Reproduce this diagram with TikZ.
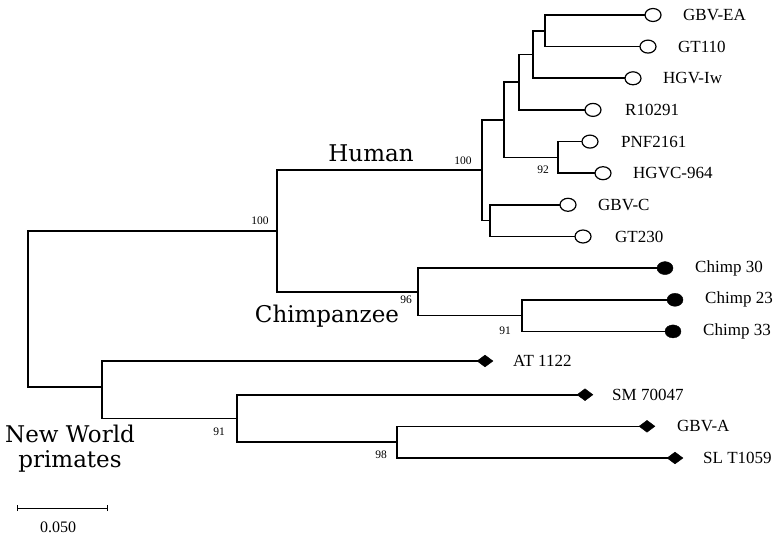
\documentclass[tikz,border=0pt]{standalone}
\usepackage{fontspec}
\setmainfont{Liberation Serif}
\newfontfamily\grpfont{DejaVu Serif}
\usetikzlibrary{shapes.geometric}
\begin{document}
\begin{tikzpicture}[x=1pt,y=-1pt,
  br/.style={line width=1.6pt, line cap=rect},
  openleaf/.style={ellipse, draw, line width=1.2pt, fill=white, minimum width=16pt, minimum height=13pt, inner sep=0pt},
  fullleaf/.style={ellipse, draw, fill=black, minimum width=16pt, minimum height=13pt, inner sep=0pt},
  dleaf/.style={diamond, draw, fill=black, minimum width=16pt, minimum height=12pt, inner sep=0pt},
  lbl/.style={anchor=west, inner sep=0pt, font=\fontsize{17}{20}\selectfont},
  boot/.style={inner sep=0pt, font=\fontsize{11.5}{13}\selectfont},
  grp/.style={inner sep=0pt, font=\grpfont\fontsize{23}{25}\selectfont}]
\useasboundingbox (0,0) rectangle (781,540);
% internal nodes
\coordinate (root) at (28,309);
\coordinate (nHC) at (277,231);
\coordinate (nH) at (482,170.2);
\coordinate (nA) at (504,119.8);
\coordinate (nR) at (519,82.2);
\coordinate (nIw) at (533,54.5);
\coordinate (nEA) at (545,30.8);
\coordinate (nPNF) at (558,157.4);
\coordinate (nC) at (490,220.6);
\coordinate (nCh) at (418,291.9);
\coordinate (nCh23) at (522,315.6);
\coordinate (nNW) at (102,387);
\coordinate (n91) at (237,418.4);
\coordinate (nGA) at (397,442.2);
% leaves
\node[openleaf] (EA) at (653,15) {};
\node[openleaf] (GT110) at (648,46.6) {};
\node[openleaf] (Iw) at (633,78.3) {};
\node[openleaf] (R) at (593,109.9) {};
\node[openleaf] (PNF) at (590,141.6) {};
\node[openleaf] (HGVC) at (603,173.2) {};
\node[openleaf] (GBVC) at (568,204.8) {};
\node[openleaf] (GT230) at (583,236.5) {};
\node[fullleaf] (Ch30) at (665,268.1) {};
\node[fullleaf] (Ch23) at (675,299.8) {};
\node[fullleaf] (Ch33) at (673,331.4) {};
\node[dleaf] (AT) at (485,361) {};
\node[dleaf] (SM) at (585,394.7) {};
\node[dleaf] (GBVA) at (647,426.3) {};
\node[dleaf] (SL) at (675,458) {};
% leaf labels
\node[lbl] (tEA) at (683,15) {GBV-EA};
\node[lbl] (tGT110) at (678,46.6) {GT110};
\node[lbl] (tIw) at (663,78.3) {HGV-Iw};
\node[lbl] (tR) at (625,109.9) {R10291};
\node[lbl] (tPNF) at (621,141.6) {PNF2161};
\node[lbl] (tHGVC) at (633,173.2) {HGVC-964};
\node[lbl] (tGBVC) at (598,204.8) {GBV-C};
\node[lbl] (tGT230) at (615,236.5) {GT230};
\node[lbl] (tCh30) at (695,268.1) {Chimp 30};
\node[lbl] (tCh23) at (705,299.8) {Chimp 23};
\node[lbl] (tCh33) at (703,331.4) {Chimp 33};
\node[lbl] (tAT) at (513,361) {AT 1122};
\node[lbl] (tSM) at (612,394.7) {SM 70047};
\node[lbl] (tGBVA) at (677,426.3) {GBV-A};
\node[lbl] (tSL) at (703,458) {SL T1059};
% branches
\draw[br] (root) |- (nHC);
\draw[br] (root) |- (nNW);
\draw[br] (nHC) |- (nH);
\draw[br] (nHC) |- (nCh);
\draw[br] (nH) |- (nA);
\draw[br] (nH) |- (nC);
\draw[br] (nA) |- (nR);
\draw[br] (nA) |- (nPNF);
\draw[br] (nR) |- (nIw);
\draw[br] (nR) |- (R.west);
\draw[br] (nIw) |- (nEA);
\draw[br] (nIw) |- (Iw.west);
\draw[br] (nEA) |- (EA.west);
\draw[br] (nEA) |- (GT110.west);
\draw[br] (nPNF) |- (PNF.west);
\draw[br] (nPNF) |- (HGVC.west);
\draw[br] (nC) |- (GBVC.west);
\draw[br] (nC) |- (GT230.west);
\draw[br] (nCh) |- (Ch30.west);
\draw[br] (nCh) |- (nCh23);
\draw[br] (nCh23) |- (Ch23.west);
\draw[br] (nCh23) |- (Ch33.west);
\draw[br] (nNW) |- (AT.west);
\draw[br] (nNW) |- (n91);
\draw[br] (n91) |- (SM.west);
\draw[br] (n91) |- (nGA);
\draw[br] (nGA) |- (GBVA.west);
\draw[br] (nGA) |- (SL.west);
% bootstrap values
\node[boot] (b1) at (260,221) {100};
\node[boot] (b2) at (463,161) {100};
\node[boot] (b3) at (543,170) {92};
\node[boot] (b4) at (406,300) {96};
\node[boot] (b5) at (505,331) {91};
\node[boot] (b6) at (219,432) {91};
\node[boot] (b7) at (381,455) {98};
% group labels
\node[grp] (gH) at (371,153) {Human};
\node[grp, anchor=base] (gC) at (327,322) {Chimpanzee};
\node[grp, anchor=base, align=center] (gNW) at (70,467) {New World\\primates};
% scale bar
\coordinate (s1) at (17,508);
\coordinate (s2) at (107,508);
\draw[line width=1pt] (s1) -- (s2);
\draw[line width=1pt] ([yshift=-3pt]s1) -- ([yshift=3pt]s1);
\draw[line width=1pt] ([yshift=-3pt]s2) -- ([yshift=3pt]s2);
\node[inner sep=0pt, font=\fontsize{16}{18}\selectfont] (sl) at (58,527) {0.050};
\end{tikzpicture}
\end{document}
